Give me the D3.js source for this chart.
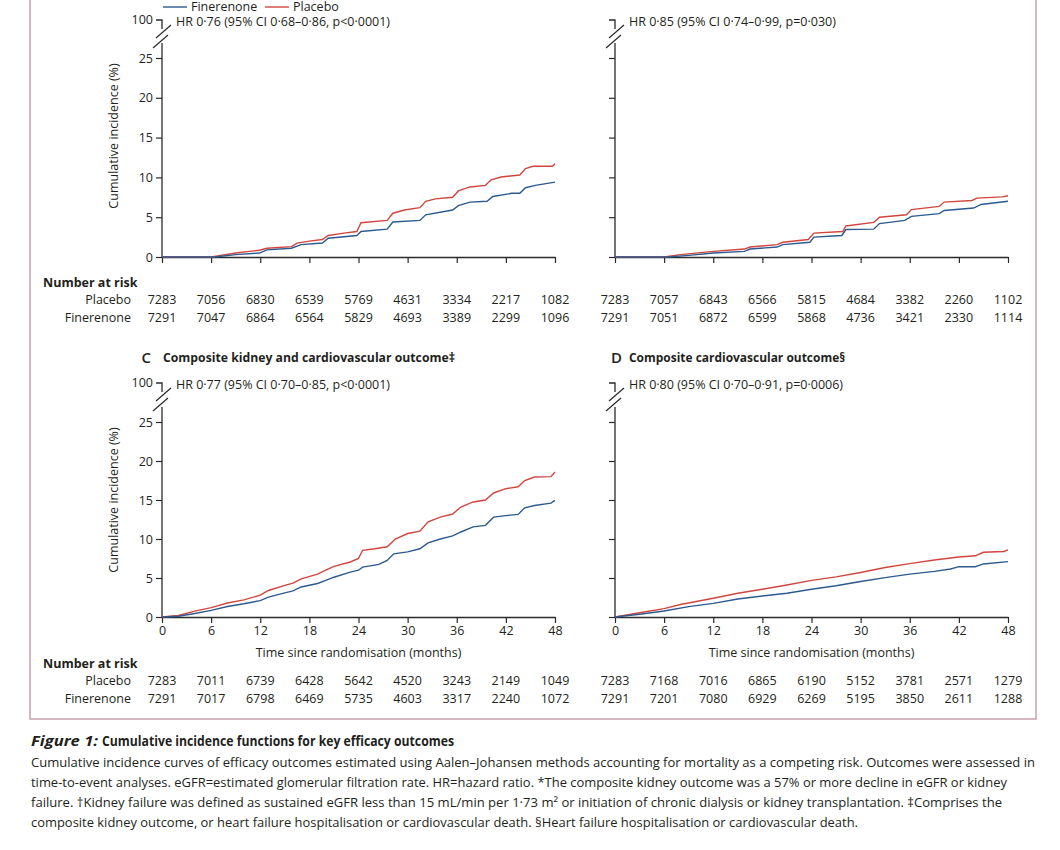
<!DOCTYPE html>
<html>
<head>
<meta charset="utf-8">
<script src="https://cdn.jsdelivr.net/npm/d3@7"></script>
<style>
body{margin:0;background:#fff}
svg text{font-family:"Open Sans",sans-serif;fill:#231f20}
</style>
</head>
<body>
<svg width="1060" height="850"></svg>
<script>
// time axis and incidence axis
const months = [0, 6, 12, 18, 24, 30, 36, 42, 48]
const yTicks = [0, 5, 10, 15, 20, 25]
const seriesNames = ["Finerenone", "Placebo"]

const hrA = "HR 0·76 (95% CI 0·68–0·86, p<0·0001)"
const hrB = "HR 0·85 (95% CI 0·74–0·99, p=0·030)"
const hrC = "HR 0·77 (95% CI 0·70–0·85, p<0·0001)"
const hrD = "HR 0·80 (95% CI 0·70–0·91, p=0·0006)"
const titleC = "Composite kidney and cardiovascular outcome‡"
const titleD = "Composite cardiovascular outcome§"

// cumulative incidence (%), [month, value]
const curveAPla = [[0,0],[6,0],[9,0.5],[11.9,0.85],[12.8,1.1],[15.8,1.3],[16.5,1.75],[18,2.0],[19.6,2.2],[20.3,2.7],[22.2,3.0],[23.8,3.2],[24.3,4.3],[27.5,4.6],[28.2,5.5],[29.6,5.9],[31.5,6.2],[32.2,7.0],[33.4,7.3],[35.5,7.5],[36.2,8.3],[37.6,8.8],[39.5,9.0],[40.2,9.7],[41.4,10.05],[43.7,10.3],[44.4,11.1],[45.3,11.4],[47.7,11.4],[48,11.7]]
const curveAFin = [[0,0],[6.5,0],[9,0.3],[11.9,0.5],[12.8,0.9],[15.8,1.1],[17,1.55],[19.6,1.75],[20.3,2.35],[23.8,2.7],[24.3,3.2],[27.5,3.5],[28.2,4.4],[31.5,4.6],[32.2,5.3],[35.5,5.9],[36.2,6.45],[37.6,6.9],[39.7,7.0],[40.4,7.6],[42.7,8.0],[43.7,8.0],[44.4,8.7],[45.6,9.0],[48,9.4]]
const curveBPla = [[0,0],[6,0],[8,0.3],[12,0.7],[15.8,1.0],[16.5,1.25],[19.8,1.55],[20.5,1.85],[23.6,2.2],[24.3,3.0],[27.8,3.2],[28.2,3.9],[31.6,4.35],[32.3,5.0],[35.6,5.3],[36.2,5.95],[39.6,6.35],[40.2,6.9],[43.6,7.1],[44.2,7.4],[47.3,7.55],[48,7.7]]
const curveBFin = [[0,0],[6.5,0],[9,0.2],[12,0.5],[15.8,0.7],[16.5,1.0],[19.8,1.25],[20.5,1.55],[23.8,1.85],[24.3,2.5],[27.7,2.7],[28.2,3.45],[31.6,3.5],[32.3,4.2],[35.4,4.6],[36.2,5.1],[39.6,5.45],[40.2,5.85],[43.8,6.15],[44.7,6.6],[48,7.0]]
const curveCPla = [[0,0],[2,0.2],[4,0.75],[6,1.2],[8,1.8],[10,2.2],[12,2.8],[13,3.4],[15,4.05],[16,4.35],[17,4.9],[19,5.5],[20,6.0],[21,6.5],[23,7.05],[24,7.5],[24.5,8.55],[26,8.75],[27.5,9.0],[28.5,10.0],[30,10.7],[31.5,11.0],[32.5,12.2],[34,12.8],[35.5,13.2],[36.5,14.1],[38,14.75],[39.5,15.0],[40.5,15.9],[42,16.45],[43.5,16.7],[44.3,17.5],[45.5,17.95],[47.5,18.0],[48,18.6]]
const curveCFin = [[0,0],[2,0.1],[4,0.45],[6,0.85],[8,1.35],[10,1.7],[12,2.1],[13,2.55],[15,3.1],[16,3.35],[17,3.85],[19,4.3],[20,4.7],[21,5.1],[23,5.75],[24,6.0],[24.5,6.4],[26.5,6.75],[27.5,7.25],[28.3,8.1],[30,8.35],[31.5,8.75],[32.5,9.5],[34,10.0],[35.5,10.4],[36.5,10.9],[38,11.55],[39.5,11.75],[40.5,12.8],[42,13.0],[43.5,13.15],[44.3,14.0],[45.5,14.3],[47.5,14.6],[48,14.95]]
const curveDPla = [[0,0],[3,0.55],[6,1.07],[8,1.6],[12,2.4],[15,3.05],[18,3.55],[21,4.1],[24,4.7],[27,5.15],[30,5.7],[33,6.35],[36,6.85],[39,7.3],[42,7.7],[44,7.85],[45,8.3],[47.5,8.4],[48,8.6]]
const curveDFin = [[0,0],[3,0.35],[6,0.77],[9,1.33],[12,1.75],[15,2.3],[18,2.7],[21,3.05],[24,3.55],[27,4.0],[30,4.55],[33,5.05],[36,5.5],[39,5.85],[41,6.15],[42,6.45],[44,6.45],[45,6.8],[48,7.1]]

// number at risk
const riskAPla = [7283, 7056, 6830, 6539, 5769, 4631, 3334, 2217, 1082]
const riskAFin = [7291, 7047, 6864, 6564, 5829, 4693, 3389, 2299, 1096]
const riskBPla = [7283, 7057, 6843, 6566, 5815, 4684, 3382, 2260, 1102]
const riskBFin = [7291, 7051, 6872, 6599, 5868, 4736, 3421, 2330, 1114]
const riskCPla = [7283, 7011, 6739, 6428, 5642, 4520, 3243, 2149, 1049]
const riskCFin = [7291, 7017, 6798, 6469, 5735, 4603, 3317, 2240, 1072]
const riskDPla = [7283, 7168, 7016, 6865, 6190, 5152, 3781, 2571, 1279]
const riskDFin = [7291, 7201, 7080, 6929, 6269, 5195, 3850, 2611, 1288]

const captionTitle = "Cumulative incidence functions for key efficacy outcomes"
const captionLines = [
	"Cumulative incidence curves of efficacy outcomes estimated using Aalen–Johansen methods accounting for mortality as a competing risk. Outcomes were assessed in",
	"time-to-event analyses. eGFR=estimated glomerular filtration rate. HR=hazard ratio. *The composite kidney outcome was a 57% or more decline in eGFR or kidney",
	"failure. †Kidney failure was defined as sustained eGFR less than 15 mL/min per 1·73 m² or initiation of chronic dialysis or kidney transplantation. ‡Comprises the",
	"composite kidney outcome, or heart failure hospitalisation or cardiovascular death. §Heart failure hospitalisation or cardiovascular death."
]
const captionWidths = [1004, 976, 971, 827]

const blue = "#2c5a8e", red = "#d0463f", ink = "#2a2a2a"

const svg = d3.select("svg")

// pink frame round the figure, top edge is off the page
svg.append("rect")
	.attr("x", 30).attr("y", -20)
	.attr("width", 1006).attr("height", 739)
	.attr("fill", "none")
	.attr("stroke", "#c8a1af")
	.attr("stroke-width", 1.5)

// legend
let lg = svg.append("g")
lg.selectAll("line").data(seriesNames).join("line")
	.attr("x1", (d, i) => 163 + i*102).attr("x2", (d, i) => 187 + i*102)
	.attr("y1", 7).attr("y2", 7)
	.attr("stroke", (d, i) => i ? red : blue)
	.attr("stroke-width", 1.4)
lg.selectAll("text").data(seriesNames).join("text")
	.attr("x", (d, i) => 191 + i*102).attr("y", 7).attr("dy", "0.35em")
	.style("font-size", "12.5px")
	.text(d => d)

const panels = [
	{x0:162, x1:555, yTop:20, y25:58, y0:257, hr:hrA, fin:curveAFin, pla:curveAPla, riskPla:riskAPla, riskFin:riskAFin, yLab:true, xLab:false, riskY:283},
	{x0:615, x1:1008, yTop:20, y25:58, y0:257, hr:hrB, fin:curveBFin, pla:curveBPla, riskPla:riskBPla, riskFin:riskBFin, yLab:false, xLab:false, riskY:283},
	{x0:162, x1:555, yTop:383, y25:422, y0:617, hr:hrC, fin:curveCFin, pla:curveCPla, riskPla:riskCPla, riskFin:riskCFin, yLab:true, xLab:true, riskY:664, title:titleC, letter:"C", letterX:151, titleX:163, titleW:292},
	{x0:615, x1:1008, yTop:383, y25:422, y0:617, hr:hrD, fin:curveDFin, pla:curveDPla, riskPla:riskDPla, riskFin:riskDFin, yLab:false, xLab:true, riskY:664, title:titleD, letter:"D", letterX:622, titleX:629, titleW:216}
]

panels.forEach(drawPanel)

function drawPanel(p){
	const x = d3.scaleLinear().domain([0, 48]).range([p.x0, p.x1])
	const y = d3.scaleLinear().domain([0, 25]).range([p.y0, p.y25])
	const g = svg.append("g")

	// x axis
	let xa = g.append("g")
		.attr("transform", `translate(0,${p.y0})`)
		.call(d3.axisBottom(x).tickValues(months).tickSize(6).tickSizeOuter(0)
			.tickFormat(p.xLab ? d3.format("d") : ""))
	xa.attr("color", ink).attr("font-family", null).attr("font-size", null)
	xa.select(".domain").attr("stroke-width", 1.3)
	xa.selectAll(".tick line").attr("stroke-width", 1.2)
	xa.selectAll(".tick text").attr("y", 9).style("font-size", "12.5px")

	// y axis, domain line drawn by hand because of the break
	let ya = g.append("g")
		.attr("transform", `translate(${p.x0},0)`)
		.call(d3.axisLeft(y).tickValues(yTicks).tickSize(6).tickSizeOuter(0)
			.tickFormat(p.yLab ? d3.format("d") : ""))
	ya.attr("color", ink).attr("font-family", null).attr("font-size", null)
	ya.select(".domain").remove()
	ya.selectAll(".tick line").attr("stroke-width", 1.2)
	ya.selectAll(".tick text").attr("x", -9).style("font-size", "12.5px")

	const brk = p.y25 - 15
	g.append("line")
		.attr("x1", p.x0).attr("x2", p.x0)
		.attr("y1", p.y0).attr("y2", brk)
		.attr("stroke", ink).attr("stroke-width", 1.3)
	g.append("path")
		.attr("d", `M${p.x0-6},${p.yTop}H${p.x0}V${p.yTop+9}`)
		.attr("fill", "none").attr("stroke", ink).attr("stroke-width", 1.3)
	// the two slashes of the axis break
	g.selectAll(".slash").data([0, 1]).join("line")
		.attr("x1", d => p.x0 - 6 - d*3).attr("x2", d => p.x0 + 9 - d*3)
		.attr("y1", d => p.yTop + 18 + d*10).attr("y2", d => p.yTop + 5 + d*10)
		.attr("stroke", ink).attr("stroke-width", 1.2)
	if(p.yLab){
		g.append("text")
			.attr("x", p.x0 - 9).attr("y", p.yTop).attr("dy", "0.35em")
			.attr("text-anchor", "end")
			.style("font-size", "12.5px")
			.text("100")
		g.append("text")
			.attr("transform", `translate(${p.x0-44},${p.y25+78}) rotate(-90)`)
			.attr("text-anchor", "middle")
			.style("font-size", "12.5px")
			.text("Cumulative incidence (%)")
	}

	g.append("text")
		.attr("x", p.x0 + 14).attr("y", p.yTop + 2).attr("dy", "0.35em")
		.style("font-size", "12.5px")
		.text(p.hr)

	if(p.title){
		g.append("text")
			.attr("x", p.letterX).attr("y", 358).attr("dy", "0.35em")
			.attr("text-anchor", "end")
			.style("font-size", "15px").style("font-weight", "600")
			.text(p.letter)
		g.append("text")
			.attr("x", p.titleX).attr("y", 358).attr("dy", "0.35em")
			.attr("textLength", p.titleW)
			.attr("lengthAdjust", "spacingAndGlyphs")
			.style("font-size", "12.5px").style("font-weight", "bold")
			.text(p.title)
	}
	if(p.xLab){
		g.append("text")
			.attr("x", (p.x0 + p.x1)/2).attr("y", 653).attr("dy", "0.35em")
			.attr("text-anchor", "middle")
			.style("font-size", "12.5px")
			.text("Time since randomisation (months)")
	}

	const line = d3.line().x(d => x(d[0])).y(d => y(d[1]))
	g.append("path").datum(p.pla)
		.attr("d", line).attr("fill", "none")
		.attr("stroke", red).attr("stroke-width", 1.4)
	g.append("path").datum(p.fin)
		.attr("d", line).attr("fill", "none")
		.attr("stroke", blue).attr("stroke-width", 1.4)

	// number at risk
	if(p.yLab){
		g.append("text")
			.attr("x", 43).attr("y", p.riskY).attr("dy", "0.35em")
			.style("font-size", "12.5px").style("font-weight", "bold")
			.text("Number at risk")
		g.selectAll(".rowlab").data(["Placebo", "Finerenone"]).join("text")
			.attr("x", 131).attr("y", (d, i) => p.riskY + 17 + i*18).attr("dy", "0.35em")
			.attr("text-anchor", "end")
			.style("font-size", "12.5px")
			.text(d => d)
	}
	;[p.riskPla, p.riskFin].forEach((row, i) => {
		g.selectAll(".risk" + i).data(row).join("text")
			.attr("x", (d, j) => x(months[j])).attr("y", p.riskY + 17 + i*18).attr("dy", "0.35em")
			.attr("text-anchor", "middle")
			.style("font-size", "12.5px")
			.text(d => d)
	})
}

// caption
const cap = svg.append("g")
cap.append("text")
	.attr("x", 31).attr("y", 741).attr("dy", "0.35em")
	.attr("textLength", 67).attr("lengthAdjust", "spacingAndGlyphs")
	.style("font-size", "13.5px").style("font-weight", "bold").style("font-style", "italic")
	.text("Figure 1:")
cap.append("text")
	.attr("x", 102).attr("y", 741).attr("dy", "0.35em")
	.attr("textLength", 352).attr("lengthAdjust", "spacingAndGlyphs")
	.style("font-size", "13.5px").style("font-weight", "bold")
	.text(captionTitle)
cap.selectAll(".capline").data(captionLines).join("text")
	.attr("x", 31).attr("y", (d, i) => 762 + i*20).attr("dy", "0.35em")
	.attr("textLength", (d, i) => captionWidths[i])
	.attr("lengthAdjust", "spacingAndGlyphs")
	.style("font-size", "13px")
	.text(d => d)
</script>
</body>
</html>
